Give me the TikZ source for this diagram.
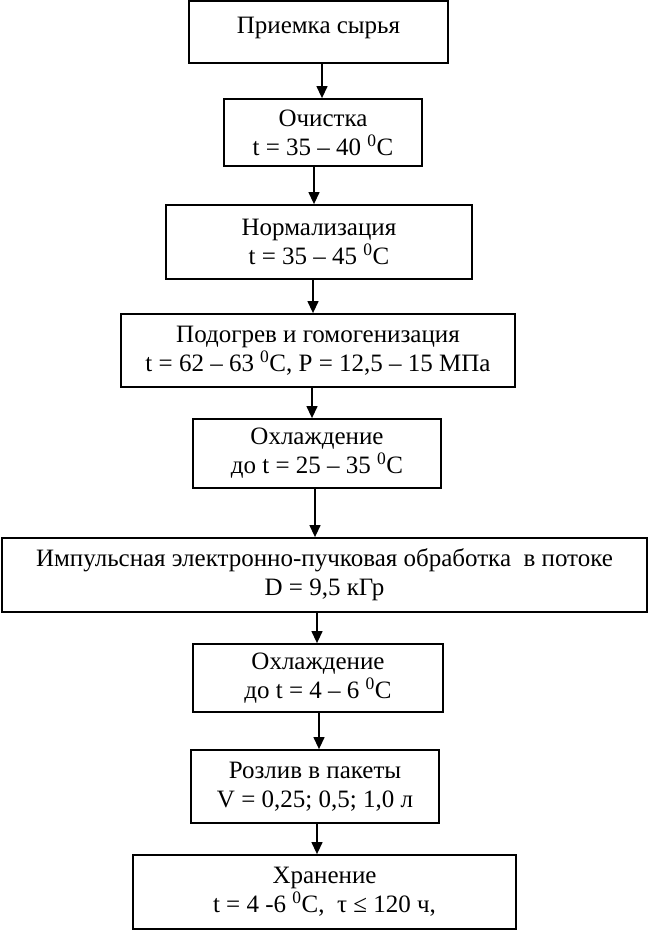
\documentclass[tikz,border=0pt]{standalone}
\usepackage{fontspec}
\setmainfont{Liberation Serif}
\usetikzlibrary{arrows.meta}
\begin{document}
\begin{tikzpicture}[x=1pt,y=-1pt,
  box/.style={draw, line width=1.8pt, align=center, inner sep=0pt, font=\fontsize{25}{29}\selectfont},
  arr/.style={line width=1.3pt, -{Triangle[length=12pt,width=11pt]}}]
\useasboundingbox (0,0) rectangle (649,931);
\node[box, minimum width=259pt, minimum height=62pt, text depth=14pt] (n1) at (318.5,32) {Приемка сырья};
\node[box, minimum width=198pt, minimum height=67pt] (n2) at (323,132.5) {Очистка\\t = 35 – 40 \textsuperscript{0}C};
\node[box, minimum width=306pt, minimum height=74pt] (n3) at (319,242) {Нормализация\\t = 35 – 45 \textsuperscript{0}C};
\node[box, minimum width=394pt, minimum height=73pt] (n4) at (318,350.5) {Подогрев и гомогенизация\\t = 62 – 63 \textsuperscript{0}C, P = 12,5 – 15 МПа};
\node[box, minimum width=248pt, minimum height=69pt] (n5) at (317,453.5) {Охлаждение\\до t = 25 – 35 \textsuperscript{0}C};
\node[box, minimum width=645pt, minimum height=74pt] (n6) at (324.5,575) {Импульсная электронно-пучковая обработка\ \ в потоке\\D = 9,5 кГр};
\node[box, minimum width=250pt, minimum height=68pt] (n7) at (318,678) {Охлаждение\\до t = 4 – 6 \textsuperscript{0}C};
\node[box, minimum width=248pt, minimum height=73pt] (n8) at (315,786.5) {Розлив в пакеты\\V = 0,25; 0,5; 1,0 л};
\node[box, minimum width=383pt, minimum height=74pt] (n9) at (324.5,892) {Хранение\\t = 4 -6 \textsuperscript{0}C,\ \ τ ≤ 120 ч,};
\coordinate (a1) at (322,0);
\coordinate (a2) at (314,0);
\coordinate (a3) at (313,0);
\coordinate (a4) at (312,0);
\coordinate (a5) at (315,0);
\coordinate (a6) at (317,0);
\coordinate (a7) at (319,0);
\coordinate (a8) at (317,0);
\draw[arr] (n1.south -| a1) -- (n2.north -| a1);
\draw[arr] (n2.south -| a2) -- (n3.north -| a2);
\draw[arr] (n3.south -| a3) -- (n4.north -| a3);
\draw[arr] (n4.south -| a4) -- (n5.north -| a4);
\draw[arr] (n5.south -| a5) -- (n6.north -| a5);
\draw[arr] (n6.south -| a6) -- (n7.north -| a6);
\draw[arr] (n7.south -| a7) -- (n8.north -| a7);
\draw[arr] (n8.south -| a8) -- (n9.north -| a8);
\end{tikzpicture}
\end{document}
